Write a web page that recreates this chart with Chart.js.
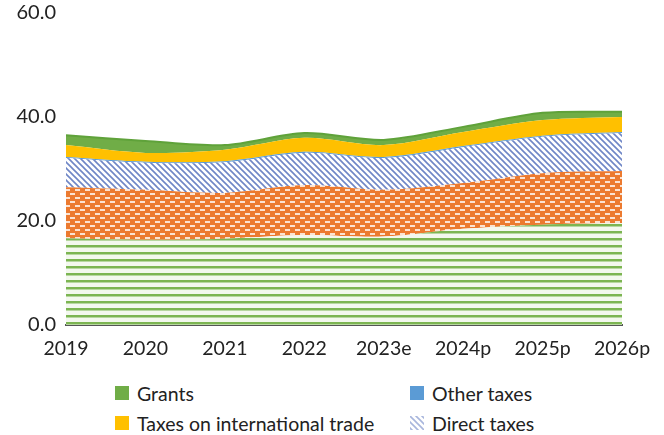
<!DOCTYPE html>
<html>
<head>
<meta charset="utf-8">
<script src="https://cdn.jsdelivr.net/npm/chart.js@4"></script>
<style>
  body { margin: 0; background: #fff; font-family: Lato, sans-serif; }
  #wrap { position: relative; width: 664px; height: 435px; }
  #revChart { position: absolute; left: 0; top: 0; }
  #legend { position: absolute; left: 115px; top: 382px; width: 540px;
            display: grid; grid-template-columns: 295px 245px; row-gap: 8px;
            font-size: 19.5px; color: #222; }
  #legend div { display: flex; align-items: center; height: 22px; }
  #legend span.box { width: 14px; height: 14px; margin-right: 8px; display: inline-block; }
</style>
</head>
<body>
<div id="wrap">
  <canvas id="revChart" width="664" height="365"></canvas>
  <div id="legend"></div>
</div>
<script>
// Revenue composition, % of GDP
const years = ["2019", "2020", "2021", "2022", "2023e", "2024p", "2025p", "2026p"];
const nonTax = [16.7, 16.4, 16.6, 17.3, 17.0, 18.5, 19.3, 19.6];
const goodsServices = [9.8, 9.6, 8.8, 9.6, 9.0, 8.8, 9.9, 10.0];
const directTaxes = [5.6, 5.2, 5.9, 6.2, 6.1, 6.9, 7.0, 7.3];
const otherTaxes = [0.2, 0.2, 0.2, 0.2, 0.2, 0.2, 0.2, 0.2];
const tradeTaxes = [2.3, 1.7, 2.2, 2.7, 2.3, 2.7, 3.0, 2.9];
const grants = [1.9, 2.3, 0.9, 0.9, 1.0, 1.0, 1.4, 1.0];
const yTicks = [0, 20, 40, 60];

// legend shows only these, in this order
const legendOrder = ["Grants", "Other taxes", "Taxes on international trade", "Direct taxes"];

function makeTile(w, h, draw) {
  const c = document.createElement("canvas");
  c.width = w; c.height = h;
  const g = c.getContext("2d");
  draw(g, w, h);
  return c;
}

const ctx = document.getElementById("revChart").getContext("2d");

const stripeTile = makeTile(8, 7, (g, w, h) => {
  g.fillStyle = "#f3f8ee"; g.fillRect(0, 0, w, h);
  g.fillStyle = "#7cb552"; g.fillRect(0, 0, w, 2.5);
});
const dashTile = makeTile(10, 8, (g, w, h) => {
  g.fillStyle = "#ec7a2f"; g.fillRect(0, 0, w, h);
  g.fillStyle = "#fbe3d2";
  g.fillRect(0, 1, 5, 2); g.fillRect(5, 5, 5, 2);
});
const hatchTile = makeTile(6, 6, (g, w, h) => {
  g.fillStyle = "#ffffff"; g.fillRect(0, 0, w, h);
  g.strokeStyle = "#6f86c6"; g.lineWidth = 1.6;
  g.beginPath();
  g.moveTo(-1, -1); g.lineTo(w + 1, h + 1);
  g.moveTo(-1, h - 1); g.lineTo(1, h + 1);
  g.moveTo(w - 1, -1); g.lineTo(w + 1, 1);
  g.stroke();
});

const stripes = ctx.createPattern(stripeTile, "repeat");
const dashes = ctx.createPattern(dashTile, "repeat");
const hatch = ctx.createPattern(hatchTile, "repeat");

function area(label, data, bg, fill, extra) {
  return Object.assign({
    label: label, data: data, backgroundColor: bg, fill: fill,
    borderWidth: 0, pointRadius: 0, tension: 0.3
  }, extra || {});
}

const chart = new Chart(ctx, {
  type: "line",
  data: {
    labels: years,
    datasets: [
      area("Non-tax revenue", nonTax, stripes, "origin"),
      area("Taxes on goods and services", goodsServices, dashes, "-1"),
      area("Direct taxes", directTaxes, hatch, "-1"),
      area("Other taxes", otherTaxes, "#5b9bd5", "-1"),
      area("Taxes on international trade", tradeTaxes, "#ffc000", "-1"),
      area("Grants", grants, "#70ad47", "-1", { borderColor: "#5fa23a", borderWidth: 2 })
    ]
  },
  options: {
    responsive: false,
    animation: false,
    layout: { padding: { top: 13, right: 42, left: 0, bottom: 0 } },
    plugins: { legend: { display: false }, tooltip: { enabled: false } },
    scales: {
      x: {
        offset: false,
        grid: { display: false, drawTicks: false },
        border: { display: true, color: "#555", width: 2 },
        ticks: { padding: 12, color: "#222", font: { family: "Lato", size: 19.5 }, maxRotation: 0 },
        afterFit: s => { s.height = 40; s.paddingLeft = 0; s.paddingRight = 0; }
      },
      y: {
        stacked: true,
        min: 0, max: 60,
        grid: { display: false, drawTicks: false },
        border: { display: false },
        afterBuildTicks: s => { s.ticks = yTicks.map(v => ({ value: v })); },
        ticks: {
          padding: 10, color: "#222", font: { family: "Lato", size: 20 },
          callback: v => v.toFixed(1)
        },
        afterFit: s => { s.width = 66; s.paddingTop = 0; s.paddingBottom = 0; }
      }
    }
  }
});

// HTML legend built from the datasets
const legendEl = document.getElementById("legend");
legendOrder.forEach(name => {
  const ds = chart.data.datasets.find(d => d.label === name);
  const item = document.createElement("div");
  const box = document.createElement("span");
  box.className = "box";
  if (typeof ds.backgroundColor === "string") {
    box.style.background = ds.backgroundColor;
  } else {
    box.style.backgroundImage = "url(" + hatchTile.toDataURL() + ")";
    box.style.opacity = "0.6";
  }
  item.appendChild(box);
  item.appendChild(document.createTextNode(name));
  legendEl.appendChild(item);
});
</script>
</body>
</html>
